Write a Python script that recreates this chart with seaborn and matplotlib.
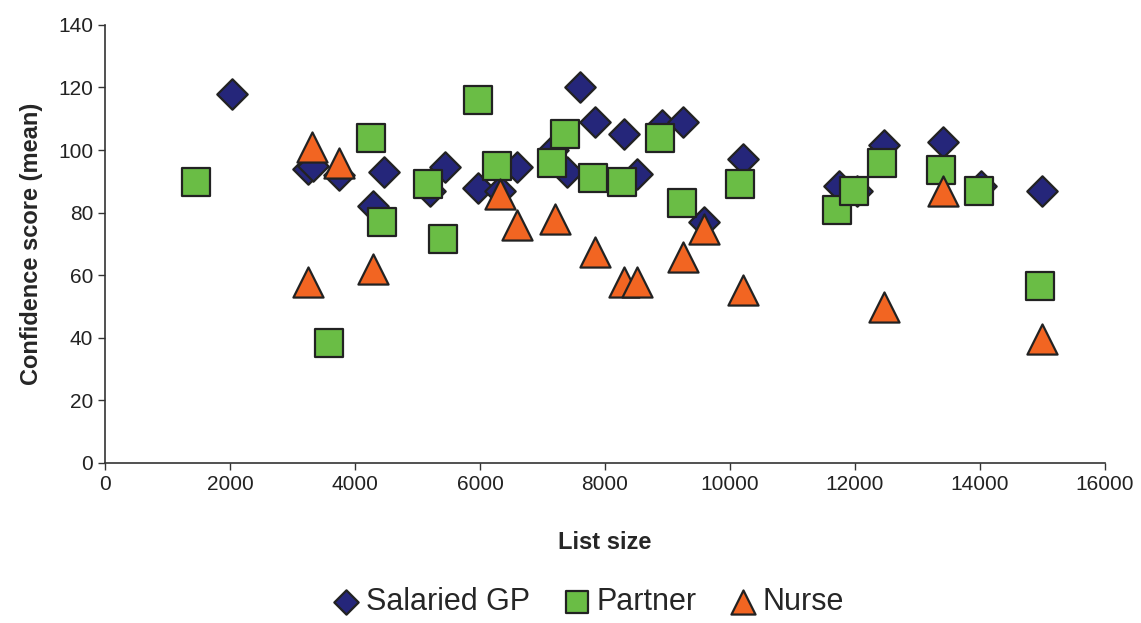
import numpy as np
import pandas as pd
import matplotlib
matplotlib.use("Agg")
import matplotlib.pyplot as plt
import seaborn as sns

# values
gp_size = [2030, 3250, 3330, 3740, 4290, 4460, 5200, 5440, 5970, 6320, 6590, 7170, 7390,
           7600, 7840, 8300, 8510, 8910, 9250, 9580, 10210, 11740, 12030, 12460, 13410,
           14020, 14990]
gp_score = [118, 94, 95, 92, 82, 93, 87, 94.5, 88, 87, 94.5, 100, 93,
            120, 109, 105, 92.5, 108, 109, 77, 97, 88.5, 87, 101.5, 102.5,
            88.5, 87]

partner_size = [1460, 3580, 4260, 4430, 5170, 5410, 5970, 6270, 7150, 7360, 7810, 8270,
                8880, 9230, 10160, 11710, 11980, 12430, 13380, 13980, 14960]
partner_score = [89.8, 38.3, 104, 77, 89, 71.6, 116, 95, 95.8, 105, 91, 89.8,
                 104, 83, 89, 80.8, 86.9, 95.8, 93.6, 86.9, 56.5]

nurse_size = [3250, 3320, 3740, 4290, 6320, 6590, 7200, 7840, 8300, 8510, 9250, 9580,
              10210, 12460, 13410, 14990]
nurse_score = [57.8, 101, 96, 62, 86, 76, 78, 67.4, 57.8, 57.8, 65.8, 74.8,
               55.3, 49.9, 86.9, 39.6]

gp = pd.DataFrame({"List size": gp_size, "Confidence": gp_score})
partner = pd.DataFrame({"List size": partner_size, "Confidence": partner_score})
nurse = pd.DataFrame({"List size": nurse_size, "Confidence": nurse_score})

sns.set_style("white")
plt.rcParams["font.family"] = ["Liberation Sans", "DejaVu Sans"]

fig = plt.figure(figsize=(11.41, 6.23), dpi=100)
ax = fig.add_axes([0.092, 0.257, 0.8765, 0.703])

edge = "#222222"
sns.scatterplot(data=gp, x="List size", y="Confidence", marker="D", s=240,
                color="#25267a", edgecolor=edge, linewidth=1.6, ax=ax, label="Salaried GP")
sns.scatterplot(data=partner, x="List size", y="Confidence", marker="s", s=400,
                color="#6abd45", edgecolor=edge, linewidth=1.6, ax=ax, label="Partner")
sns.scatterplot(data=nurse, x="List size", y="Confidence", marker="^", s=470,
                color="#f26522", edgecolor=edge, linewidth=1.6, ax=ax, label="Nurse")

ax.set_xlim(0, 16000)
ax.set_ylim(0, 140)
ax.set_xticks(np.arange(0, 16001, 2000))
ax.set_yticks(np.arange(0, 141, 20))
ax.tick_params(axis="both", direction="out", length=5, width=1, color="#333333",
               labelsize=15, labelcolor="#222222", left=True, bottom=True)
for side in ["top", "right"]:
    ax.spines[side].set_visible(False)
for side in ["left", "bottom"]:
    ax.spines[side].set_color("#333333")
    ax.spines[side].set_linewidth(1.2)

ax.set_xlabel("List size", fontsize=17, fontweight="bold", labelpad=27)
ax.set_ylabel("Confidence score (mean)", fontsize=17, fontweight="bold", labelpad=11)

handles, labels = ax.get_legend_handles_labels()
ax.legend_.remove()
fig.legend(handles, labels, loc="center", bbox_to_anchor=(0.516, 0.034), ncol=3,
           frameon=False, fontsize=22, markerscale=0.8, handlelength=0.85,
           handletextpad=0.22, columnspacing=1.1, borderpad=0.2)

fig.savefig("out.png", dpi=100)
